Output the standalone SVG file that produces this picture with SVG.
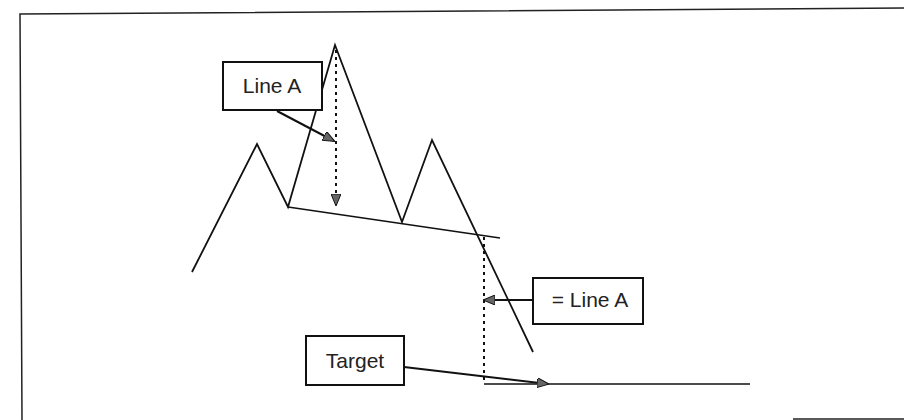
<svg xmlns="http://www.w3.org/2000/svg" width="904" height="420" viewBox="0 0 904 420">
  <style>
    .frame { fill: none; stroke: #222; stroke-width: 1.5; }
    .price { fill: none; stroke: #111; stroke-width: 1.8; stroke-linejoin: miter; }
    .neck { fill: none; stroke: #111; stroke-width: 1.6; }
    .box { fill: #fff; stroke: #111; stroke-width: 2; }
    .label { font-family: "Liberation Sans", Arial, sans-serif; font-size: 21px; fill: #222; text-anchor: middle; }
    .dash { fill: none; stroke: #111; stroke-width: 2; stroke-dasharray: 3 4; }
    .pointer { fill: none; stroke: #111; stroke-width: 2; }
  </style>
  <defs>
    <marker id="head" viewBox="0 0 12 10" refX="11" refY="5" markerWidth="12" markerHeight="10" markerUnits="userSpaceOnUse" orient="auto">
      <path d="M0,0 L12,5 L0,10 Z" fill="#666" stroke="#111" stroke-width="1"/>
    </marker>
  </defs>

  <rect width="904" height="420" fill="#fff"/>

  <!-- outer frame, partly shown -->
  <g id="frame">
    <path class="frame" d="M22,420 L20,14 L904,8"/>
    <path class="frame" d="M793,419 L904,419"/>
  </g>

  <!-- price path: head and shoulders pattern -->
  <g id="price">
    <polyline class="price" points="192,272 257,144 288,207 335,45 402,222 432,140 533,352"/>
  </g>

  <!-- neckline -->
  <g id="neckline">
    <line class="neck" x1="288" y1="207" x2="500" y2="238"/>
  </g>

  <g id="connectors">
    <!-- height of head above neckline -->
    <line class="dash" x1="336" y1="50" x2="336" y2="205" marker-end="url(#head)"/>
    <!-- projected distance below breakout -->
    <line class="dash" x1="484" y1="237" x2="484" y2="384"/>
    <!-- target level -->
    <line class="neck" x1="484" y1="384" x2="750" y2="384"/>
    <!-- label pointers -->
    <line class="pointer" x1="277" y1="111" x2="334" y2="141" marker-end="url(#head)"/>
    <line class="pointer" x1="533" y1="300" x2="484" y2="300" marker-end="url(#head)"/>
    <line class="pointer" x1="404" y1="367" x2="548" y2="384" marker-end="url(#head)"/>
  </g>

  <g id="label-line-a">
    <rect class="box" x="223" y="62" width="99" height="48"/>
    <text class="label" x="272" y="93">Line A</text>
  </g>

  <g id="label-equal-line-a">
    <rect class="box" x="533" y="278" width="110" height="46"/>
    <text class="label" x="590" y="307">= Line A</text>
  </g>

  <g id="label-target">
    <rect class="box" x="306" y="336" width="98" height="49"/>
    <text class="label" x="355" y="368">Target</text>
  </g>
</svg>
